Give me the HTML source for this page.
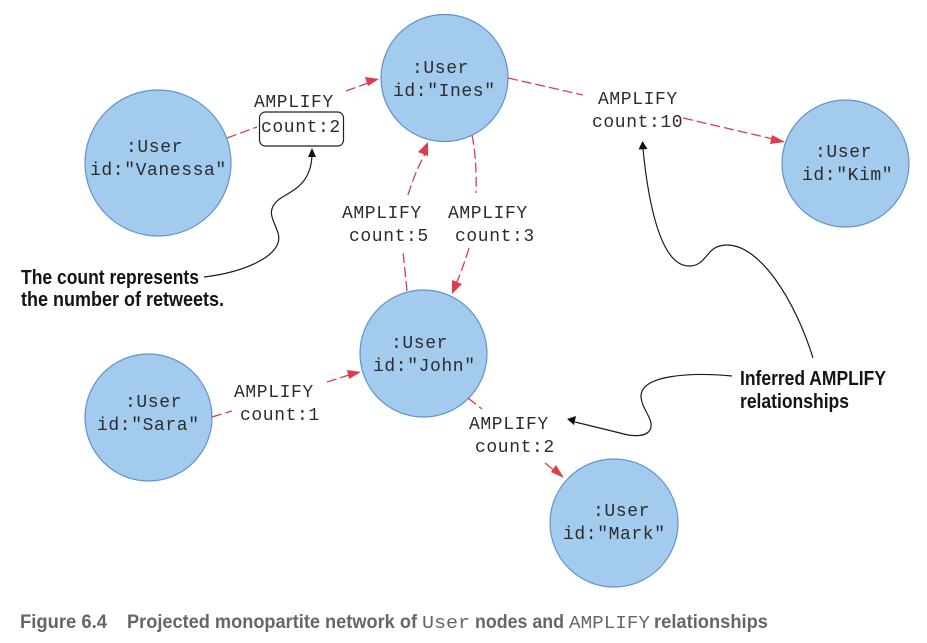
<!DOCTYPE html>
<html><head><meta charset="utf-8"><style>
html,body{margin:0;padding:0;background:#fff;width:927px;height:643px;overflow:hidden}
svg{display:block}
.m{font-family:"Liberation Mono",monospace;font-size:18px;letter-spacing:.6px;fill:#2c2c2c}
.b{font-family:"Liberation Sans",sans-serif;font-weight:bold;font-size:20px;fill:#141414}
.c{font-family:"Liberation Sans",sans-serif;font-weight:bold;font-size:19px;fill:#666}
.cm{font-family:"Liberation Mono",monospace;font-size:18px;fill:#666}
.n{fill:#a3cbed;stroke:#5f93cf;stroke-width:1.2}
.r{fill:none;stroke:#dc3c4b;stroke-width:1.3;stroke-dasharray:10 4}
.k{fill:none;stroke:#1a1a1a;stroke-width:1.2}
.ra{fill:#dc3c4b}
</style></head><body>
<svg width="927" height="643" viewBox="0 0 927 643" xmlns="http://www.w3.org/2000/svg">
<circle class="n" cx="158" cy="163" r="73"/>
<circle class="n" cx="444.5" cy="78" r="63.5"/>
<circle class="n" cx="845.5" cy="163.5" r="63.5"/>
<circle class="n" cx="423.5" cy="353.5" r="63.5"/>
<circle class="n" cx="148.5" cy="417.5" r="63.5"/>
<circle class="n" cx="614" cy="523" r="64"/>

<path class="r" d="M227 138L257 127"/>
<path class="r" d="M346 91L368 83"/>
<polygon class="ra" points="379,79 365,77 368,86"/>
<path class="r" d="M407 291L403 251"/>
<path class="r" d="M408 195Q415 172 425 154"/>
<polygon class="ra" points="428,142 418,152 428,156"/>
<path class="r" d="M472 135Q477 160 476 193"/>
<path class="r" d="M469 248Q463 268 456 284"/>
<polygon class="ra" points="452,294 452,280 462,284"/>
<path class="r" d="M508 78L583 95"/>
<path class="r" d="M683 118L773 139"/>
<polygon class="ra" points="785,142 772,135 770,144"/>
<path class="r" d="M212 417L232 411"/>
<path class="r" d="M327 382L349 375"/>
<polygon class="ra" points="361,372 347,370 349,379"/>
<path class="r" d="M468 398L482 409"/>
<path class="r" d="M545 463L556 472"/>
<polygon class="ra" points="564,478 551,472 556,465"/>

<rect x="259.500" y="112" width="84" height="34" rx="6" ry="6" fill="#fff" stroke="#222" stroke-width="1.2"/>

<path class="k" d="M204 277C245 272 285 255 278 233C275 222 266 213 276 202C285 192 310 190 312 156"/>
<polygon points="312,148 308,157 316,157" fill="#111"/>
<path class="k" d="M813 358C795 300 760 245 727 245C705 245 708 266 689 266C660 266 648 200 643 149"/>
<polygon points="642.500,141 638.500,149.500 647.500,149" fill="#111"/>
<path class="k" d="M732 376C690 372 640 375 641 397C642 410 655 420 650 430C645 438 630 436 620 433L575 422"/>
<polygon points="567,419 576,416 574,425" fill="#111"/>

<text class="m" x="412" y="73">:User</text>
<text class="m" x="393" y="96">id:"Ines"</text>
<text class="m" x="126" y="152">:User</text>
<text class="m" x="90" y="175">id:"Vanessa"</text>
<text class="m" x="815" y="157">:User</text>
<text class="m" x="802" y="180">id:"Kim"</text>
<text class="m" x="391" y="348">:User</text>
<text class="m" x="373" y="371">id:"John"</text>
<text class="m" x="125" y="407">:User</text>
<text class="m" x="97" y="430">id:"Sara"</text>
<text class="m" x="593" y="516">:User</text>
<text class="m" x="563" y="539">id:"Mark"</text>

<text class="m" x="254" y="107">AMPLIFY</text>
<text class="m" x="261" y="132">count:2</text>
<text class="m" x="342" y="218">AMPLIFY</text>
<text class="m" x="349" y="241">count:5</text>
<text class="m" x="448" y="218">AMPLIFY</text>
<text class="m" x="455" y="241">count:3</text>
<text class="m" x="598" y="104">AMPLIFY</text>
<text class="m" x="592" y="127">count:10</text>
<text class="m" x="234" y="397">AMPLIFY</text>
<text class="m" x="240" y="420">count:1</text>
<text class="m" x="469" y="429">AMPLIFY</text>
<text class="m" x="475" y="452">count:2</text>

<text class="b" x="21" y="284" textLength="178" lengthAdjust="spacingAndGlyphs">The count represents</text>
<text class="b" x="21" y="306" textLength="203" lengthAdjust="spacingAndGlyphs">the number of retweets.</text>
<text class="b" x="740" y="385" textLength="146" lengthAdjust="spacingAndGlyphs">Inferred AMPLIFY</text>
<text class="b" x="740" y="408" textLength="109" lengthAdjust="spacingAndGlyphs">relationships</text>

<text class="c" x="20" y="628" textLength="87" lengthAdjust="spacingAndGlyphs">Figure 6.4</text>
<text class="c" x="127" y="628" textLength="290" lengthAdjust="spacingAndGlyphs">Projected monopartite network of</text>
<text class="cm" x="422" y="628" textLength="48" lengthAdjust="spacingAndGlyphs">User</text>
<text class="c" x="475" y="628" textLength="89" lengthAdjust="spacingAndGlyphs">nodes and</text>
<text class="cm" x="569" y="628" textLength="81" lengthAdjust="spacingAndGlyphs">AMPLIFY</text>
<text class="c" x="654" y="628" textLength="114" lengthAdjust="spacingAndGlyphs">relationships</text>
</svg>
</body></html>
